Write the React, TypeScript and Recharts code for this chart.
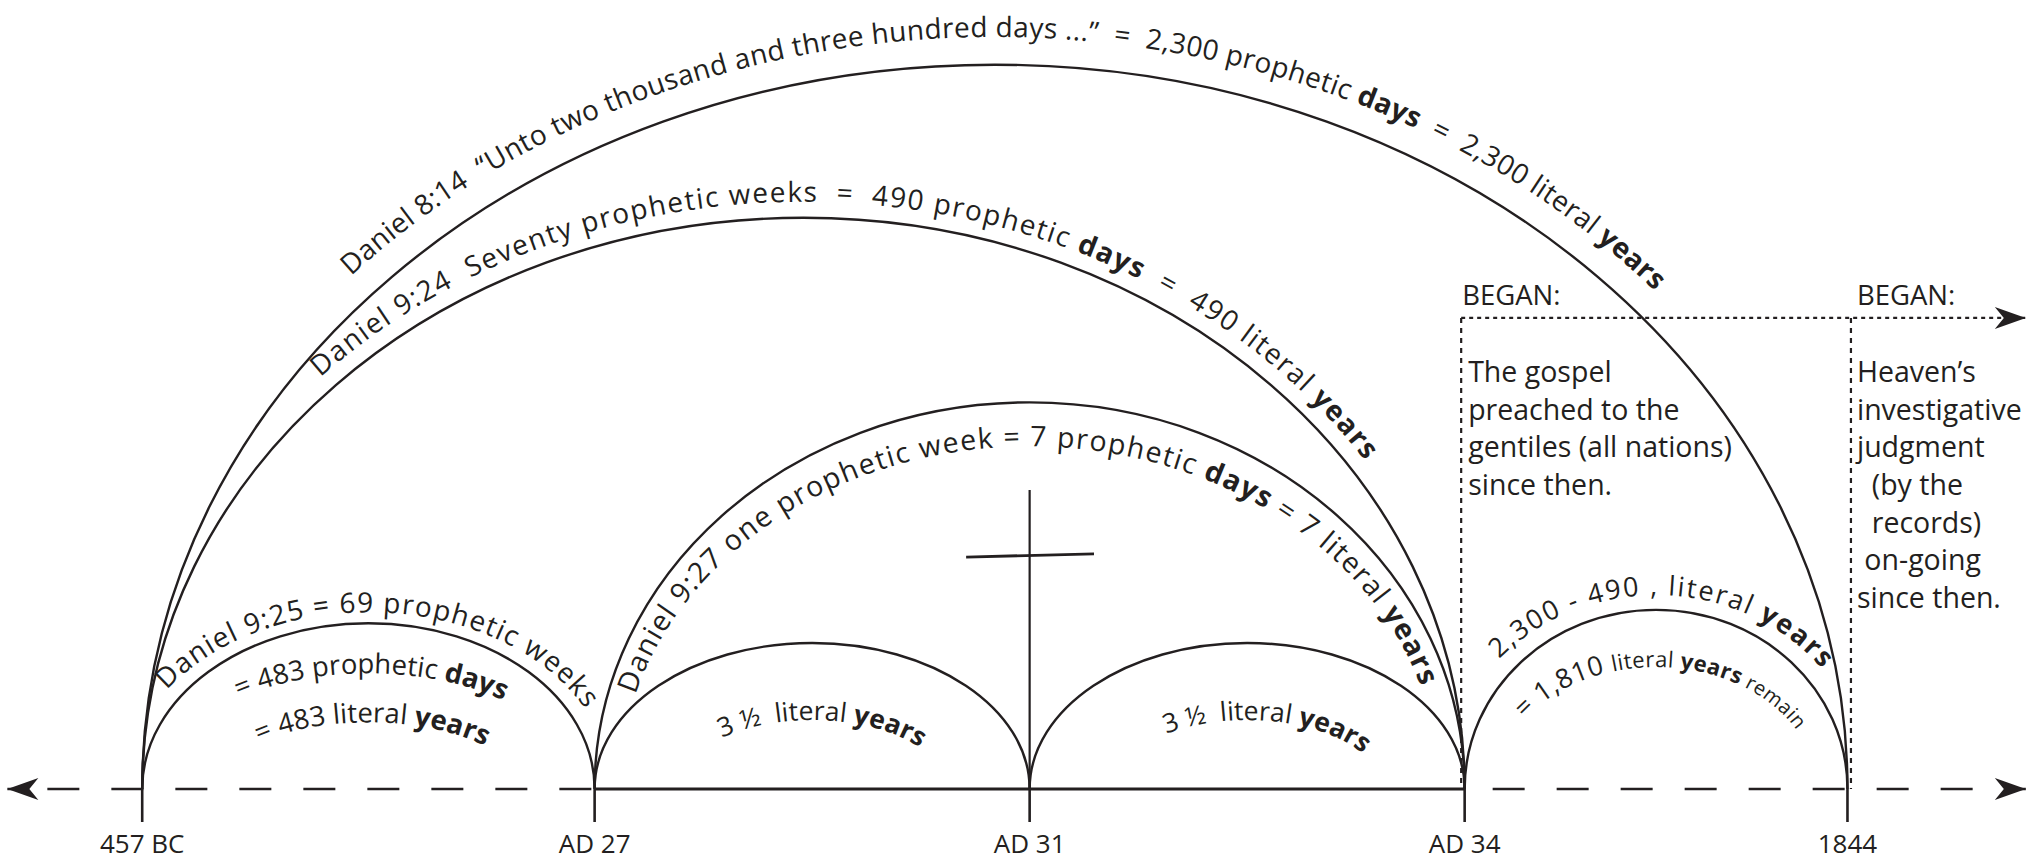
import React from 'react';
import { ComposedChart, Line, Scatter, XAxis, YAxis } from 'recharts';

const INK = '#231f20';
const FONT = '"Open Sans", "Noto Sans", sans-serif';

// ---------- data ----------
const eventLabels = ['457 BC', 'AD 27', 'AD 31', 'AD 34', '1844'];
const eventPos = [0, 10.4, 20.4, 30.4, 39.2];

const arcIds = ['dan814', 'dan924', 'dan927', 'dan925', 'halfA', 'halfB', 'remain'];
const arcStart = [0, 0, 1, 0, 1, 2, 3];
const arcEnd = [4, 3, 3, 1, 2, 3, 4];
const arcHeight = [91.8, 72.4, 49.0, 21.0, 18.5, 18.5, 22.7];

const lineLeftTip = -3.1;
const lineRightTip = 43.3;
const beganLevel = 59.7;
const beganPos = [30.32, 39.28];
const crossTop = 37.9;
const crossBarX = [18.94, 21.88];
const crossBarY = [29.4, 29.8];

const beganTitle = 'BEGAN:';
const beganTextLeft = ['The gospel', 'preached to the', 'gentiles (all nations)', 'since then.'];
const beganTextRight = ['Heaven\u2019s', 'investigative', 'judgment', '  (by the', '  records)', ' on-going', 'since then.'];

type Seg = [string, boolean];
const arcLabelArc = [0, 1, 2, 3, 3, 3, 4, 5, 6, 6];
const arcLabelSegs: Seg[][] = [
  [['Daniel 8:14  \u201CUnto two thousand and three hundred days ...\u201D  =  2,300 prophetic ', false], ['days', true], ['  =  2,300 literal ', false], ['years', true]],
  [['Daniel 9:24  Seventy prophetic weeks  =  490 prophetic ', false], ['days', true], ['  =  490 literal ', false], ['years', true]],
  [['Daniel 9:27 one prophetic week = 7 prophetic ', false], ['days', true], [' = 7 literal ', false], ['years', true]],
  [['Daniel 9:25 = 69 prophetic weeks', false]],
  [['= 483 prophetic ', false], ['days', true]],
  [['= 483 literal ', false], ['years', true]],
  [['3 \u00BD  literal ', false], ['years', true]],
  [['3 \u00BD  literal ', false], ['years', true]],
  [['2,300 - 490 , literal ', false], ['years', true]],
  [['= 1,810 ', false], ['literal ', false], ['years', true], [' remain', false]],
];

// ---------- layout (styles / offsets for labels) ----------
type Layout = {
  out: boolean;
  gx: number;
  gy: number;
  size: number;
  center?: number;
  from?: number;
  to?: number;
  sizes?: number[];
};
const labelLayout: Layout[] = [
  { out: true, gx: 28, gy: 28, from: 137, to: 41.5, size: 28 },
  { out: true, gx: 16, gy: 16, from: 135.5, to: 34, size: 28 },
  { out: false, gx: 25, gy: 44, from: 164, to: 17.5, size: 28.5 },
  { out: true, gx: 17, gy: 11, from: 146, to: 27, size: 28 },
  { out: false, gx: 16, gy: 50, center: 89, size: 27.5 },
  { out: false, gx: 74, gy: 99, center: 88, size: 27.5 },
  { out: false, gx: 83, gy: 77, center: 84.5, size: 26.5 },
  { out: false, gx: 83, gy: 77, center: 79, size: 26.5 },
  { out: true, gx: 20, gy: 15, from: 138, to: 38.5, size: 27 },
  { out: false, gx: 31, gy: 57, from: 145, to: 29, size: 24, sizes: [27, 22, 22, 20] },
];

function ellLen(Rx: number, Ry: number, t0: number, t1: number) {
  const n = 300;
  const h = (t0 - t1) / n;
  let s = 0;
  for (let i = 0; i < n; i++) {
    const t = t0 - (i + 0.5) * h;
    s += Math.sqrt((Rx * Math.sin(t)) ** 2 + (Ry * Math.cos(t)) ** 2) * h;
  }
  return s;
}

// ---------- custom curve: semi-ellipse through (start, apex, end) ----------
function semiEllipseCurve(context: any) {
  let pts: number[][] = [];
  return {
    areaStart() {},
    areaEnd() {},
    lineStart() {
      pts = [];
    },
    point(x: number, y: number) {
      pts.push([+x, +y]);
    },
    lineEnd() {
      if (pts.length < 3) {
        if (pts.length) {
          context.moveTo(pts[0][0], pts[0][1]);
          for (let i = 1; i < pts.length; i++) context.lineTo(pts[i][0], pts[i][1]);
        }
        return;
      }
      const [x0, y0] = pts[0];
      const [xc, yc] = pts[1];
      const [x1, y1] = pts[2];
      const k = 0.5522847498;
      context.moveTo(x0, y0);
      context.bezierCurveTo(x0, y0 - k * (y0 - yc), xc - k * (xc - x0), yc, xc, yc);
      context.bezierCurveTo(xc + k * (x1 - xc), yc, x1, y1 - k * (y1 - yc), x1, y1);
    },
  };
}

function ArcLabels({ arc, x0, x1, base, top }: { arc: number; x0: number; x1: number; base: number; top: number }) {
  const rx = (x1 - x0) / 2;
  const cxp = (x0 + x1) / 2;
  const ry = base - top;
  const rows = arcLabelArc.map((a, i) => ({ a, i })).filter((o) => o.a === arc);
  return (
    <g>
      {rows.map(({ i }) => {
        const L = labelLayout[i];
        const Rx = L.out ? rx + L.gx : rx - L.gx;
        const Ry = L.out ? ry + L.gy : ry - L.gy;
        const d = `M ${cxp - Rx} ${base} A ${Rx} ${Ry} 0 0 1 ${cxp + Rx} ${base}`;
        const pid = `arc-label-path-${i}`;
        let tpProps: any;
        if (L.from !== undefined && L.to !== undefined) {
          const ts = (L.from * Math.PI) / 180;
          const te = (L.to * Math.PI) / 180;
          const off = ellLen(Rx, Ry, Math.PI, ts);
          const len = ellLen(Rx, Ry, ts, te);
          tpProps = { startOffset: off, textLength: len, lengthAdjust: 'spacing', textAnchor: 'start' };
        } else {
          tpProps = { startOffset: `${((180 - (L.center ?? 90)) / 180) * 100}%`, textAnchor: 'middle' };
        }
        return (
          <g key={pid}>
            <defs>
              <path id={pid} d={d} />
            </defs>
            <text fontSize={L.size} fill={INK} fontFamily={FONT} xmlSpace="preserve" style={{ whiteSpace: 'pre' }}>
              <textPath href={`#${pid}`} {...tpProps}>
                {arcLabelSegs[i].map(([t, b], j) => (
                  <tspan key={j} fontWeight={b ? 700 : 400} fontSize={L.sizes ? L.sizes[j] : undefined}>
                    {t}
                  </tspan>
                ))}
              </textPath>
            </text>
          </g>
        );
      })}
    </g>
  );
}

function makeArcDot(arcIndex: number) {
  const seen: any = {};
  return (p: any) => {
    const idx = p.index;
    seen[idx] = { x: p.cx, y: p.cy };
    if (idx !== 2) return <g key={`arcdot-${arcIndex}-${idx}`} />;
    const pts =
      p.points && p.points.length === 3
        ? p.points.map((q: any) => ({ x: q.x, y: q.y }))
        : [seen[0], seen[1], seen[2]];
    if (!pts[0] || !pts[1] || !pts[2]) return <g key={`arcdot-${arcIndex}-${idx}`} />;
    return <ArcLabels key={`arcdot-${arcIndex}-${idx}`} arc={arcIndex} x0={pts[0].x} x1={pts[2].x} base={pts[0].y} top={pts[1].y} />;
  };
}
const arcDots = arcIds.map((_, i) => makeArcDot(i));

const arcData = arcIds.map((_, i) => {
  const a = eventPos[arcStart[i]];
  const b = eventPos[arcEnd[i]];
  return [
    { x: a, y: 0 },
    { x: (a + b) / 2, y: arcHeight[i] },
    { x: b, y: 0 },
  ];
});

const arrowData = [
  { x: lineLeftTip, y: 0, dir: -1 },
  { x: lineRightTip, y: 0, dir: 1 },
  { x: lineRightTip, y: beganLevel, dir: 1 },
];
const beganData = [
  { x: beganPos[0], y: beganLevel, side: 0 },
  { x: beganPos[1], y: beganLevel, side: 1 },
];

function ArrowHead(p: any) {
  const { cx, cy, payload } = p;
  const s = payload.dir;
  const L = 31;
  const W = 11;
  const N = 9;
  return (
    <path
      d={`M ${cx} ${cy} L ${cx - s * L} ${cy - W} L ${cx - s * (L - N)} ${cy} L ${cx - s * L} ${cy + W} Z`}
      fill={INK}
    />
  );
}

function BeganNote(p: any) {
  const { cx, cy, payload } = p;
  const lines = payload.side === 0 ? beganTextLeft : beganTextRight;
  const tx = payload.side === 0 ? cx + 1 : cx + 6;
  const lx = payload.side === 0 ? cx + 7 : cx + 6;
  return (
    <g fontFamily={FONT} fill={INK} fontSize={28.5}>
      <text x={tx} y={cy - 13} fontSize={27.5}>{beganTitle}</text>
      {lines.map((t, i) => (
        <text key={i} x={lx} y={cy + 64 + i * 37.7} xmlSpace="preserve" style={{ whiteSpace: 'pre' }}>
          {t}
        </text>
      ))}
    </g>
  );
}

const plainLine = {
  dataKey: 'y',
  type: 'linear' as const,
  stroke: INK,
  dot: false,
  activeDot: false,
  isAnimationActive: false,
  legendType: 'none' as const,
};

export default function App() {
  return (
    <div style={{ position: 'absolute', left: 0, top: 0, width: 2028, height: 866, background: '#fff' }}>
      <ComposedChart width={2028} height={866} margin={{ top: 0, right: 0, bottom: 0, left: 3 }}>
        <XAxis
          type="number"
          dataKey="x"
          domain={[-3.2, 43.35]}
          ticks={eventPos}
          interval={0}
          tickFormatter={(v: number) => eventLabels[eventPos.indexOf(v)] ?? ''}
          axisLine={false}
          tickSize={33}
          tickMargin={13}
          tickLine={{ stroke: INK, strokeWidth: 2.6 }}
          tick={{ fill: INK, fontSize: 26, fontFamily: FONT }}
          height={77}
        />
        <YAxis type="number" dataKey="y" domain={[0, 100]} hide width={0} />

        {/* baseline */}
        <Line {...plainLine} data={[{ x: lineLeftTip, y: 0 }, { x: eventPos[1], y: 0 }]} strokeWidth={2.6} strokeDasharray="32 32" strokeDashoffset={24} />
        <Line {...plainLine} data={[{ x: eventPos[1], y: 0 }, { x: eventPos[3], y: 0 }]} strokeWidth={3} />
        <Line {...plainLine} data={[{ x: eventPos[3], y: 0 }, { x: lineRightTip, y: 0 }]} strokeWidth={2.6} strokeDasharray="32 32" strokeDashoffset={36} />

        {/* dotted "BEGAN" frame */}
        <Line {...plainLine} data={[{ x: beganPos[0], y: beganLevel }, { x: lineRightTip, y: beganLevel }]} strokeWidth={2.2} strokeDasharray="4 4" />
        {beganPos.map((bx, i) => (
          <Line key={`bv${i}`} {...plainLine} data={[{ x: bx, y: beganLevel }, { x: bx, y: 0 }]} strokeWidth={2.2} strokeDasharray="5 5" />
        ))}

        {/* cross at AD 31 */}
        <Line {...plainLine} data={[{ x: eventPos[2], y: 0 }, { x: eventPos[2], y: crossTop }]} strokeWidth={2.2} />
        <Line {...plainLine} data={[{ x: crossBarX[0], y: crossBarY[0] }, { x: crossBarX[1], y: crossBarY[1] }]} strokeWidth={2.8} />

        {/* arcs */}
        {arcIds.map((id, i) => (
          <Line
            key={id}
            data={arcData[i]}
            dataKey="y"
            type={semiEllipseCurve as any}
            stroke={INK}
            strokeWidth={2.4}
            fill="none"
            dot={arcDots[i]}
            activeDot={false}
            isAnimationActive={false}
            legendType="none"
          />
        ))}

        <Scatter data={arrowData} shape={ArrowHead} isAnimationActive={false} legendType="none" />
        <Scatter data={beganData} shape={BeganNote} isAnimationActive={false} legendType="none" />
      </ComposedChart>
    </div>
  );
}
